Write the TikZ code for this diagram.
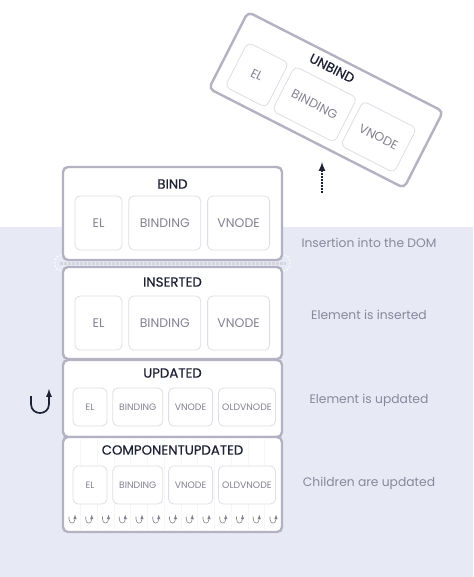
\documentclass[tikz,border=0pt]{standalone}
\usepackage{fontspec}
\setmainfont{Poppins}
\newfontfamily\hookfont{Poppins}[FakeBold=0.5]
\usepackage{tikz}
\definecolor{hookback}{RGB}{231,233,245}
\definecolor{hookframe}{RGB}{178,178,194}
\definecolor{slotline}{RGB}{222,222,230}
\definecolor{slottext}{RGB}{132,130,146}
\definecolor{hooktext}{RGB}{30,33,52}
\definecolor{notetext}{RGB}{138,135,156}
\usetikzlibrary{positioning}

\begin{document}
\begin{tikzpicture}[x=1pt, y=-1pt, semithick, node distance=6pt,
hook/.style={draw=hookframe, line width=2.4pt, fill=white, rounded corners=5pt,
  minimum width=219pt, inner sep=0pt},
slot/.style={draw=slotline, line width=0.8pt, fill=white, rounded corners=5pt,
  text=slottext, font=\fontsize{12.5}{12.5}\selectfont, minimum height=54pt, inner sep=0pt},
smallslot/.style={slot, minimum height=38pt, font=\fontsize{9.3}{9.3}\selectfont},
title/.style={text=hooktext, font=\hookfont\fontsize{13.3}{13.3}\selectfont},
note/.style={text=notetext, font=\fontsize{12.3}{12.3}\selectfont},
loop/.style={-latex, draw=hooktext, line width=1.7pt},
tinyloop/.style={-latex, draw=slottext, line width=0.6pt},
trigger/.style={-latex, draw=hooktext, line width=2pt, densely dotted},
seam/.style={draw=white, line width=1.4pt, dotted, rounded corners=7pt}]
  \useasboundingbox (0,0) rectangle (473,577);
  \fill[white] (0,0) rectangle (473,227);
  \fill[hookback] (0,227) rectangle (473,577);

  % gap between bind and inserted
  \draw[seam] (55,255) rectangle (290,271);
  \draw[hookframe!55, line width=3pt, densely dotted] (60,263.5) -- (286,263.5);

  % bind
  \node[hook, minimum height=93pt](bind) at (172.5,213.5) {};
  \node[title](bindtitle) at (172.5,184) {BIND};
  \node[slot, minimum width=47pt](bindel) at (98.5,223) {EL};
  \node[slot, minimum width=72pt](bindbinding)[right = of bindel]{BINDING};
  \node[slot, minimum width=62pt](bindvnode)[right = of bindbinding]{VNODE};

  % inserted
  \node[hook, minimum height=92pt](inserted) at (172.5,313) {};
  \node[title](insertedtitle) at (172.5,282) {INSERTED};
  \node[slot, minimum width=47pt](insertedel) at (98.5,323) {EL};
  \node[slot, minimum width=72pt](insertedbinding)[right = of insertedel]{BINDING};
  \node[slot, minimum width=62pt](insertedvnode)[right = of insertedbinding]{VNODE};

  % updated
  \node[hook, minimum height=77pt](updated) at (172.5,398.5) {};
  \node[title](updatedtitle) at (172.5,373) {UPDATED};
  \node[smallslot, minimum width=34pt](updatedel) at (90,407) {EL};
  \node[smallslot, minimum width=50pt](updatedbinding)[right = 5pt of updatedel]{BINDING};
  \node[smallslot, minimum width=44pt](updatedvnode)[right = 5pt of updatedbinding]{VNODE};
  \node[smallslot, minimum width=57pt](updatedold)[right = 5pt of updatedvnode]{OLDVNODE};

  % componentupdated
  \node[hook, minimum height=95pt](compupdated) at (172.5,484.5) {};
  \foreach \i in {0,...,11}
    \draw[black!3, line width=0.6pt] (80.4+16.75*\i,439) -- (80.4+16.75*\i,530);
  \node[title](compupdatedtitle) at (172.5,450) {COMPONENTUPDATED};
  \node[smallslot, minimum width=34pt](compupdatedel) at (90,485) {EL};
  \node[smallslot, minimum width=50pt](compupdatedbinding)[right = 5pt of compupdatedel]{BINDING};
  \node[smallslot, minimum width=44pt](compupdatedvnode)[right = 5pt of compupdatedbinding]{VNODE};
  \node[smallslot, minimum width=57pt](compupdatedold)[right = 5pt of compupdatedvnode]{OLDVNODE};
  \foreach \i in {0,...,12}
    \draw[tinyloop] (69+16.75*\i,516.5) -- (69+16.75*\i,519)
      .. controls (69+16.75*\i,524.5) and (75+16.75*\i,524.5) .. (75+16.75*\i,519) -- (75+16.75*\i,514.5);

  % repeat mark
  \draw[loop] (31,396) -- (31,404) .. controls (31,416) and (49,416) .. (49,404) -- (49,389);

  % notes
  \node[note](domnote) at (369,243) {Insertion into the DOM};
  \node[note](insertednote) at (369,315) {Element is inserted};
  \node[note](updatednote) at (369,400) {Element is updated};
  \node[note](childrennote) at (369,483) {Children are updated};

  % unbind
  \begin{scope}[shift={(326,100)}, rotate=-27, transform shape]
    \node[hook, minimum height=86pt, minimum width=219pt](unbind) at (0,0) {};
    \node[title](unbindtitle) at (-9,-31) {UNBIND};
    \node[slot, minimum height=50pt, minimum width=46pt](unbindel) at (-73,9) {EL};
    \node[slot, minimum height=50pt, minimum width=70pt](unbindbinding)[right = of unbindel]{BINDING};
    \node[slot, minimum height=50pt, minimum width=60pt](unbindvnode)[right = of unbindbinding]{VNODE};
  \end{scope}
  \coordinate (unbindfrom) at (322,193);
  \coordinate (unbindto) at (322,162);
  \draw[trigger] (unbindfrom) -- (unbindto);
\end{tikzpicture}
\end{document}
